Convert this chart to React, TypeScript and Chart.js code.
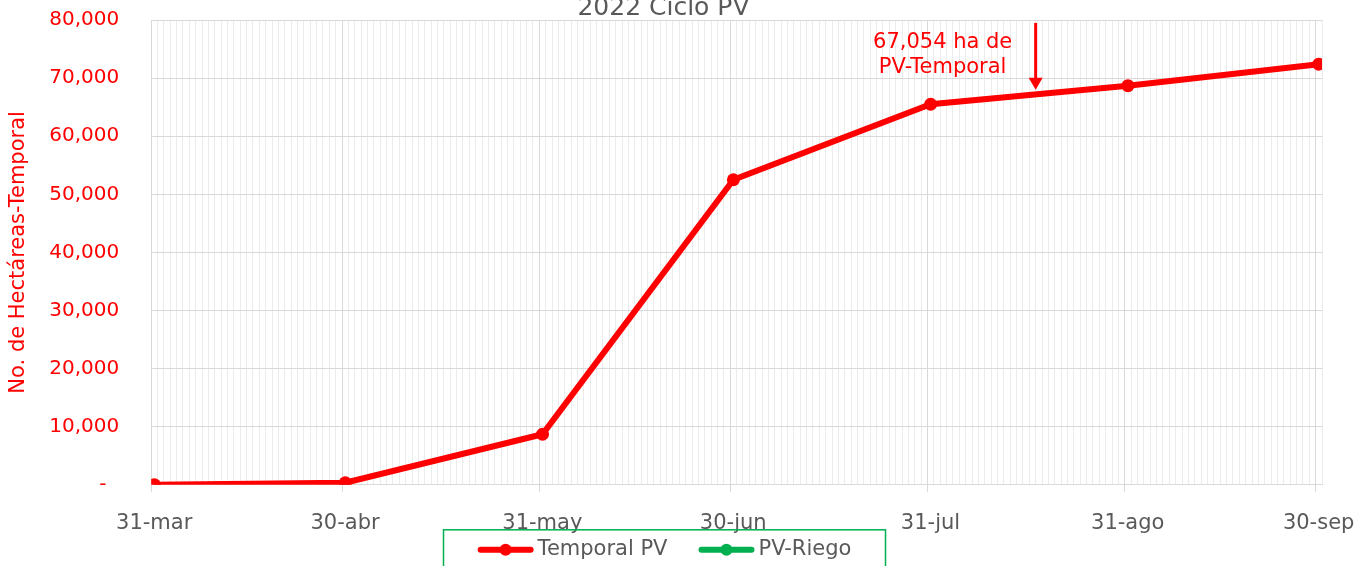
import React, { useEffect, useRef } from 'react';
import { Chart, registerables } from 'chart.js';

Chart.register(...registerables);

const FONT = '"DejaVu Sans", sans-serif';

const TITLE = '2022 Ciclo PV';
const Y_TITLE = 'No. de Hectáreas-Temporal';
const seriesNames = ['Temporal PV', 'PV-Riego'];
const seriesColors = ['#ff0000', '#00b050'];

const START_DATE = '2022-03-31';
const END_DATE = '2022-09-30';
const categories = ['2022-03-31', '2022-04-30', '2022-05-31', '2022-06-30', '2022-07-31', '2022-08-31', '2022-09-30'];
const tickLabels = ['31-mar', '30-abr', '31-may', '30-jun', '31-jul', '31-ago', '30-sep'];
const temporalValues = [0, 350, 8700, 52500, 65500, 68700, 72400];
const riegoValues: (number | null)[] = [null, null, null, null, null, null, null];

const Y_MIN = 0;
const Y_MAX = 80000;
const Y_STEP = 10000;

const annotationLines = ['67,054 ha de', 'PV-Temporal'];
const annotationDate = '2022-08-17';
const annotationTipValue = 68000;
const annotationTopValue = 79500;

const dayIndex = (d: string) =>
  Math.round((new Date(d + 'T00:00:00Z').getTime() - new Date(START_DATE + 'T00:00:00Z').getTime()) / 86400000);

const TOTAL_DAYS = dayIndex(END_DATE) + 1;
const categoryDays = categories.map(dayIndex);
const isMajor = (v: number) => categoryDays.includes(v);

const annotationPlugin = {
  id: 'arrowNote',
  afterDatasetsDraw(chart: any) {
    const { ctx, scales } = chart;
    const x = scales.x.getPixelForValue(dayIndex(annotationDate));
    const yTip = scales.y.getPixelForValue(annotationTipValue);
    const yTop = scales.y.getPixelForValue(annotationTopValue);
    ctx.save();
    ctx.strokeStyle = seriesColors[0];
    ctx.fillStyle = seriesColors[0];
    ctx.lineWidth = 3;
    ctx.beginPath();
    ctx.moveTo(x, yTop);
    ctx.lineTo(x, yTip - 10);
    ctx.stroke();
    ctx.beginPath();
    ctx.moveTo(x - 7, yTip - 12);
    ctx.lineTo(x + 7, yTip - 12);
    ctx.lineTo(x, yTip);
    ctx.closePath();
    ctx.fill();
    ctx.font = `21px ${FONT}`;
    ctx.textAlign = 'center';
    ctx.textBaseline = 'middle';
    annotationLines.forEach((t, i) => {
      ctx.fillText(t, x - 93, yTop + 20 + i * 25);
    });
    ctx.restore();
  },
};

const legendPlugin = {
  id: 'boxLegend',
  afterDraw(chart: any) {
    const { ctx, chartArea } = chart;
    ctx.save();
    ctx.font = `21px ${FONT}`;
    const sample = 56;
    const items = chart.data.datasets.map((ds: any) => ({
      label: ds.label,
      color: ds.borderColor,
      w: sample + 4 + ctx.measureText(ds.label).width,
    }));
    const gap = 31;
    const total = items.reduce((s: number, it: any) => s + it.w, 0) + gap * (items.length - 1);
    const cx = chart.width / 2 - 15;
    const boxTop = chartArea.bottom + 45;
    const boxW = 442;
    ctx.strokeStyle = '#00b050';
    ctx.lineWidth = 1.5;
    ctx.strokeRect(cx - boxW / 2, boxTop, boxW, 70);
    let x = cx - total / 2;
    const y = boxTop + 20;
    items.forEach((it: any) => {
      ctx.strokeStyle = it.color;
      ctx.fillStyle = it.color;
      ctx.lineWidth = 6;
      ctx.lineCap = 'round';
      ctx.beginPath();
      ctx.moveTo(x + 3, y);
      ctx.lineTo(x + sample - 3, y);
      ctx.stroke();
      ctx.beginPath();
      ctx.arc(x + sample / 2, y, 6, 0, Math.PI * 2);
      ctx.fill();
      ctx.fillStyle = '#595959';
      ctx.textAlign = 'left';
      ctx.textBaseline = 'middle';
      ctx.fillText(it.label, x + sample + 4, y);
      x += it.w + gap;
    });
    ctx.restore();
  },
};

export default function App() {
  const ref = useRef<HTMLCanvasElement | null>(null);

  useEffect(() => {
    if (!ref.current) return;
    Chart.defaults.font.family = FONT;
    const chart = new Chart(ref.current, {
      type: 'line',
      data: {
        datasets: [
          {
            label: seriesNames[0],
            data: categories.map((d, i) => ({ x: dayIndex(d) + 0.5, y: temporalValues[i] })),
            borderColor: seriesColors[0],
            backgroundColor: seriesColors[0],
            borderWidth: 6,
            pointRadius: 6.5,
            pointBackgroundColor: seriesColors[0],
            pointBorderWidth: 0,
            tension: 0,
          },
          {
            label: seriesNames[1],
            data: categories.map((d, i) => ({ x: dayIndex(d) + 0.5, y: riegoValues[i] as any })),
            borderColor: seriesColors[1],
            backgroundColor: seriesColors[1],
            borderWidth: 6,
            pointRadius: 6.5,
            pointBorderWidth: 0,
          },
        ],
      },
      options: {
        responsive: true,
        maintainAspectRatio: false,
        animation: false,
        layout: { padding: { left: 5, right: 37, top: 0, bottom: 35 } },
        plugins: {
          legend: { display: false },
          tooltip: { enabled: false },
          title: {
            display: true,
            text: TITLE,
            color: '#595959',
            font: { family: FONT, size: 25, weight: 'normal' },
            padding: { top: 3, bottom: -3 },
          },
        },
        scales: {
          x: {
            type: 'linear',
            min: 0,
            max: TOTAL_DAYS,
            afterBuildTicks: (scale: any) => {
              scale.ticks = Array.from({ length: TOTAL_DAYS + 1 }, (_, i) => ({ value: i }));
            },
            ticks: {
              autoSkip: false,
              maxRotation: 0,
              minRotation: 0,
              labelOffset: 3,
              padding: 19,
              color: '#595959',
              font: { family: FONT, size: 21 },
              callback: (v: any) => {
                const i = categoryDays.indexOf(Number(v));
                return i >= 0 ? tickLabels[i] : '';
              },
            },
            grid: {
              color: (c: any) => (c.tick && isMajor(c.tick.value) ? '#d9d9d9' : '#ebebeb'),
              tickColor: (c: any) => (c.tick && isMajor(c.tick.value) ? '#d9d9d9' : 'rgba(0,0,0,0)'),
              lineWidth: 1,
              drawTicks: true,
              tickLength: 7,
            },
            border: { display: true, color: '#d9d9d9' },
          },
          y: {
            min: Y_MIN,
            max: Y_MAX,
            ticks: {
              stepSize: Y_STEP,
              padding: 0,
              color: '#ff0000',
              font: { family: FONT, size: 20 },
              callback: (v: any) => (Number(v) === 0 ? '-  ' : Number(v).toLocaleString('en-US')),
            },
            grid: { color: '#d9d9d9', drawTicks: true, tickLength: 32, tickColor: 'rgba(0,0,0,0)' },
            border: { display: false },
            title: {
              display: true,
              text: Y_TITLE,
              color: '#ff0000',
              font: { family: FONT, size: 21 },
              padding: { top: 1, bottom: 18 },
            },
          },
        },
      },
      plugins: [annotationPlugin, legendPlugin],
    } as any);
    return () => chart.destroy();
  }, []);

  return (
    <div style={{ position: 'fixed', left: 0, top: -10, width: 1359, height: 600 }}>
      <canvas ref={ref} />
    </div>
  );
}
